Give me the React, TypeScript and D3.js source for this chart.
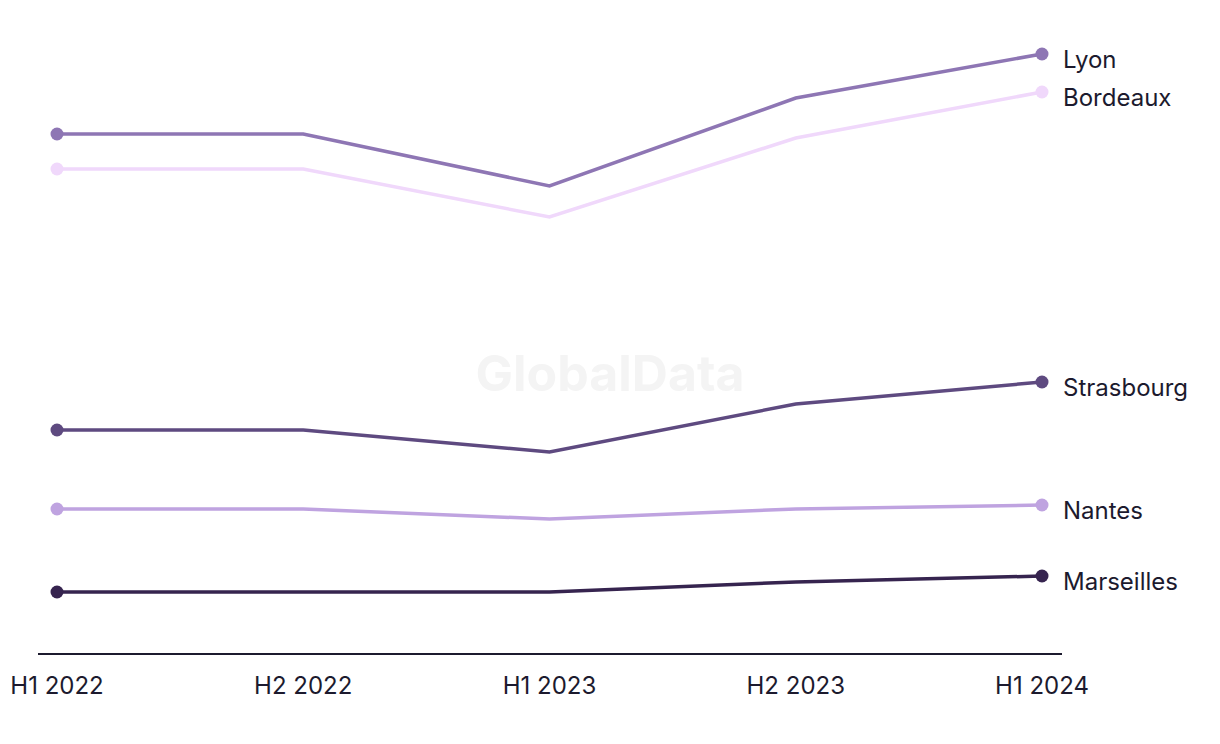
import React from "react";
import * as d3 from "d3";

const periods = ["H1 2022", "H2 2022", "H1 2023", "H2 2023", "H1 2024"];
const seriesNames = ["Lyon", "Bordeaux", "Strasbourg", "Nantes", "Marseilles"];
const lyon = [520, 520, 468, 556, 600];
const bordeaux = [485, 485, 437, 516, 562];
const strasbourg = [224, 224, 202, 250, 272];
const nantes = [145, 145, 135, 145, 149];
const marseilles = [62, 62, 62, 72, 78];
const seriesColors = ["#8e76b4", "#f0d8fb", "#5e4a80", "#bfa3e0", "#36244f"];

const W = 1220;
const H = 744;

export default function App() {
  const data = [lyon, bordeaux, strasbourg, nantes, marseilles];
  const x = d3.scalePoint<string>().domain(periods).range([57, 1042]);
  const y = d3.scaleLinear().domain([0, 620]).range([654, 34]);
  const line = d3
    .line<number>()
    .x((_, i) => x(periods[i]) as number)
    .y((d) => y(d));
  const font = "Inter, 'Open Sans', sans-serif";
  const textColor = "#1c1a2e";
  return (
    <svg
      width={W}
      height={H}
      style={{ position: "absolute", left: 0, top: 0 }}
      fontFamily={font}
    >
      <rect width={W} height={H} fill="#ffffff" />
      <text
        x={610}
        y={391}
        textAnchor="middle"
        fontSize={50}
        fontWeight={700}
        fill="#f4f4f4"
      >
        GlobalData
      </text>
      <line x1={38} x2={1062} y1={654} y2={654} stroke={textColor} strokeWidth={2} />
      {periods.map((p) => (
        <text
          key={p}
          x={x(p)}
          y={694}
          textAnchor="middle"
          fontSize={24}
          fill={textColor}
        >
          {p}
        </text>
      ))}
      {data.map((vals, si) => {
        const last = vals.length - 1;
        return (
          <g key={seriesNames[si]}>
            <path
              d={line(vals) || ""}
              fill="none"
              stroke={seriesColors[si]}
              strokeWidth={3.5}
            />
            <circle cx={x(periods[0])} cy={y(vals[0])} r={6.5} fill={seriesColors[si]} />
            <circle cx={x(periods[last])} cy={y(vals[last])} r={6.5} fill={seriesColors[si]} />
            <text
              x={1063}
              y={y(vals[last]) + 14}
              fontSize={24}
              fill={textColor}
            >
              {seriesNames[si]}
            </text>
          </g>
        );
      })}
    </svg>
  );
}
